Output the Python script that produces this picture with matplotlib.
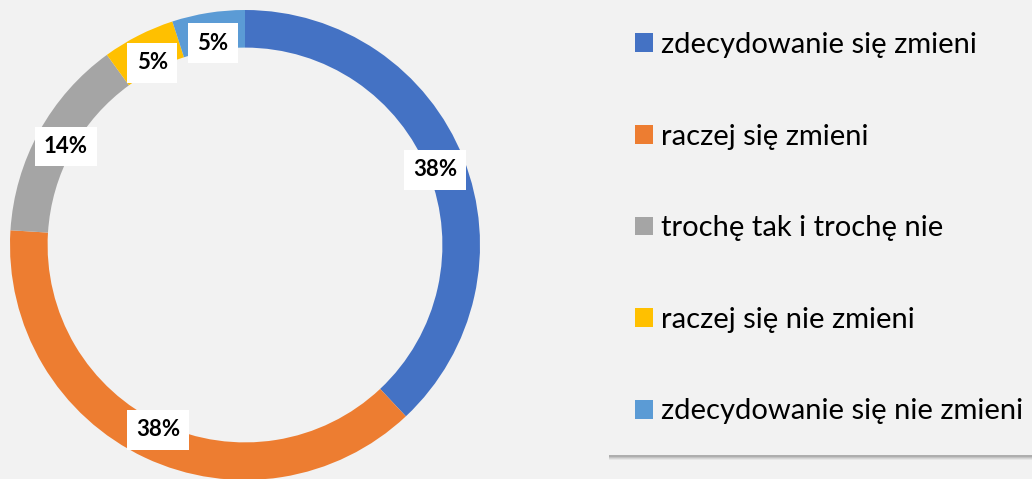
import matplotlib
matplotlib.use("Agg")
import matplotlib.pyplot as plt
from matplotlib.patches import Rectangle

categories = ["zdecydowanie się zmieni", "raczej się zmieni", "trochę tak i trochę nie",
              "raczej się nie zmieni", "zdecydowanie się nie zmieni"]
values = [38, 38, 14, 5, 5]
colors = ["#4472C4", "#ED7D31", "#A5A5A5", "#FFC000", "#5B9BD5"]

W, H = 1032, 479
bg = "#F2F2F2"
fig = plt.figure(figsize=(W / 100, H / 100), dpi=100, facecolor=bg)

# donut axes
R = 235
cx, cy = 245, H - 245
ax = fig.add_axes([(cx - R) / W, (cy - R) / H, 2 * R / W, 2 * R / H])
ax.set_facecolor(bg)
wedges, texts, autotexts = ax.pie(
    values, colors=colors, startangle=90, counterclock=False,
    radius=1.0, wedgeprops=dict(width=0.16, edgecolor="none"),
    autopct=lambda p: f"{p:.0f}%", pctdistance=0.87,
    textprops=dict(fontsize=16, fontweight="bold", color="black", family="Lato"))
for t in autotexts:
    t.set_bbox(dict(boxstyle="square,pad=0.42", facecolor="white", edgecolor="none"))
ax.set_xlim(-1, 1)
ax.set_ylim(-1, 1)
ax.set_aspect("equal")
ax.axis("off")

# legend frame with soft shadow
x0, y0, x1, y1 = 607, 5, 1040, 455
for i, a in enumerate([0.10, 0.15, 0.22, 0.30]):
    off = 4 - i
    fig.patches.append(Rectangle(((x0 + 2) / W, (H - y1 - off - 1) / H), (x1 - x0) / W,
                                 (y1 - y0) / H, transform=fig.transFigure,
                                 facecolor="#808080", edgecolor="none", alpha=a, zorder=0))
fig.patches.append(Rectangle((x0 / W, (H - y1) / H), (x1 - x0) / W, (y1 - y0) / H,
                             transform=fig.transFigure, facecolor=bg, edgecolor="none",
                             zorder=0.5))

leg = fig.legend(wedges, categories, loc="upper left",
                 bbox_to_anchor=(635 / W, 1 - 32 / H),
                 frameon=False, prop=dict(family="Lato", size=21),
                 handlelength=0.62, handleheight=0.62, handletextpad=0.27,
                 labelspacing=2.25, borderpad=0, borderaxespad=0)

fig.savefig("out.png", dpi=100, facecolor=bg)
